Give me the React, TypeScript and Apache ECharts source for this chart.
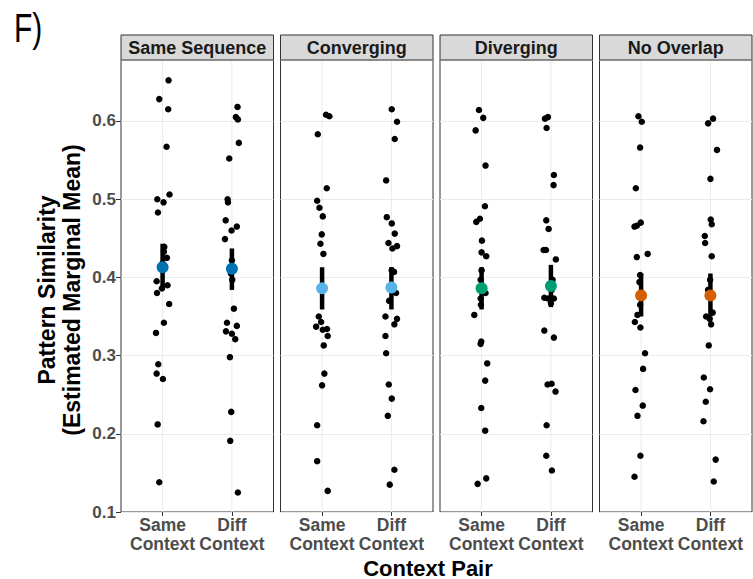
import React, { useEffect, useRef } from "react";
import * as echarts from "echarts";

// ---------- data ----------
const panelTitles = ["Same Sequence", "Converging", "Diverging", "No Overlap"];
const contextLabels = ["Same\nContext", "Diff\nContext"];
const meanColors = ["#0072B2", "#56B4E9", "#009E73", "#D55E00"];

// Estimated marginal means [Same, Diff] per panel, and their interval bounds
const emmMeans = [[0.413, 0.411], [0.386, 0.387], [0.386, 0.389], [0.377, 0.377]];
const emmLower = [[0.384, 0.384], [0.359, 0.359], [0.359, 0.362], [0.350, 0.350]];
const emmUpper = [[0.443, 0.437], [0.413, 0.413], [0.413, 0.416], [0.405, 0.405]];

// Individual participant values and their horizontal jitter (in category units)
const sameSeqSame = [0.652, 0.628, 0.615, 0.567, 0.500, 0.496, 0.506, 0.483, 0.439, 0.433, 0.425, 0.418, 0.395, 0.386, 0.390, 0.380, 0.366, 0.342, 0.329, 0.289, 0.277, 0.270, 0.212, 0.138];
const sameSeqSameJit = [0.086, -0.048, 0.081, 0.057, -0.076, 0.014, 0.1, -0.067, 0.024, 0.019, 0.062, 0, -0.086, -0.01, 0.071, -0.081, 0.095, 0.019, -0.095, -0.062, -0.086, 0.005, -0.071, -0.048];
const sameSeqDiff = [0.618, 0.605, 0.602, 0.572, 0.552, 0.500, 0.496, 0.473, 0.460, 0.465, 0.449, 0.422, 0.405, 0.397, 0.360, 0.342, 0.338, 0.331, 0.328, 0.321, 0.298, 0.228, 0.191, 0.125];
const sameSeqDiffJit = [0.081, 0.057, 0.086, 0.1, -0.038, -0.062, -0.057, -0.09, -0.005, 0.071, -0.1, 0, -0.014, 0.005, 0.029, -0.071, 0.071, -0.086, 0, 0.048, -0.029, -0.01, -0.024, 0.086];

const convSame = [0.608, 0.606, 0.583, 0.514, 0.498, 0.489, 0.478, 0.455, 0.443, 0.430, 0.350, 0.343, 0.337, 0.333, 0.334, 0.325, 0.313, 0.277, 0.262, 0.211, 0.165, 0.127];
const convSameJit = [0.057, 0.105, -0.062, 0.067, -0.071, -0.038, 0.01, -0.005, -0.024, 0.019, -0.048, -0.014, -0.086, 0.01, 0.071, 0.081, 0.024, 0.033, 0, -0.071, -0.071, 0.081];
const convDiff = [0.615, 0.599, 0.577, 0.524, 0.477, 0.469, 0.456, 0.444, 0.437, 0.440, 0.409, 0.407, 0.380, 0.370, 0.350, 0.347, 0.340, 0.325, 0.303, 0.263, 0.245, 0.223, 0.154, 0.135];
const convDiffJit = [0.005, 0.081, 0.048, -0.076, -0.067, 0.005, 0.048, -0.043, 0.014, 0.081, 0.005, 0.038, 0.067, -0.033, -0.086, 0.081, 0.043, -0.086, -0.076, -0.038, 0.005, -0.052, 0.043, -0.024];

const divSame = [0.614, 0.604, 0.588, 0.543, 0.491, 0.471, 0.475, 0.447, 0.432, 0.427, 0.409, 0.397, 0.380, 0.373, 0.365, 0.352, 0.318, 0.315, 0.290, 0.268, 0.233, 0.204, 0.143, 0.136];
const divSameJit = [-0.038, 0.024, -0.086, 0.057, 0.048, -0.076, -0.024, 0.005, 0, 0.067, 0, -0.014, 0.057, -0.014, -0.01, -0.105, -0.005, -0.014, 0.081, 0.052, -0.005, 0.052, 0.067, -0.057];
const divDiff = [0.603, 0.605, 0.591, 0.531, 0.518, 0.473, 0.462, 0.435, 0.435, 0.423, 0.397, 0.384, 0.374, 0.373, 0.373, 0.367, 0.332, 0.323, 0.263, 0.264, 0.254, 0.211, 0.172, 0.153];
const divDiffJit = [-0.086, -0.043, -0.062, 0.043, 0.038, -0.067, -0.033, -0.105, -0.071, 0.071, 0.024, 0.01, -0.095, -0.043, 0.043, 0, -0.095, 0.043, -0.048, 0.01, 0.067, -0.062, -0.067, 0.014];

const noOvSame = [0.606, 0.599, 0.566, 0.514, 0.470, 0.465, 0.466, 0.430, 0.426, 0.403, 0.394, 0.365, 0.352, 0.343, 0.336, 0.303, 0.283, 0.256, 0.236, 0.223, 0.172, 0.145];
const noOvSameJit = [-0.038, 0.01, -0.014, -0.076, -0.005, -0.095, -0.062, 0.095, -0.062, -0.014, -0.024, -0.014, -0.052, -0.09, -0.01, 0.057, 0.029, -0.081, 0.024, -0.052, -0.01, -0.095];
const noOvDiff = [0.603, 0.597, 0.563, 0.526, 0.474, 0.468, 0.453, 0.444, 0.427, 0.397, 0.384, 0.355, 0.350, 0.347, 0.340, 0.313, 0.272, 0.257, 0.241, 0.216, 0.167, 0.139];
const noOvDiffJit = [0.038, -0.033, 0.095, 0, 0.005, 0.019, -0.081, -0.076, 0.019, -0.005, -0.033, 0.033, -0.062, -0.01, 0.01, -0.024, -0.095, -0.005, -0.067, -0.1, 0.076, 0.048];

const yTickValues = [0.1, 0.2, 0.3, 0.4, 0.5, 0.6];
const xTickValues = [1, 2];

// ---------- layout ----------
const FONT = "'Liberation Sans', Arial, Helvetica, sans-serif";
const Y_MIN = 0.1;
const Y_MAX = 0.678;
const X_MIN = 0.4;
const X_MAX = 2.6;
const PANEL_LEFT = 121;
const PANEL_W = 152.5;
const PANEL_STEP = 159.5;
const PANEL_TOP = 60;
const PANEL_H = 452;
const STRIP_H = 25;

export default function App() {
  const ref = useRef<HTMLDivElement>(null);

  useEffect(() => {
    document.body.style.margin = "0";
    if (!ref.current) return;
    const chart = echarts.init(ref.current, null, { renderer: "svg" });

    const panels = [
      { same: sameSeqSame, sameJ: sameSeqSameJit, diff: sameSeqDiff, diffJ: sameSeqDiffJit },
      { same: convSame, sameJ: convSameJit, diff: convDiff, diffJ: convDiffJit },
      { same: divSame, sameJ: divSameJit, diff: divDiff, diffJ: divDiffJit },
      { same: noOvSame, sameJ: noOvSameJit, diff: noOvDiff, diffJ: noOvDiffJit },
    ];

    const grids: any[] = [];
    const xAxes: any[] = [];
    const yAxes: any[] = [];
    const series: any[] = [];
    const graphics: any[] = [];

    panels.forEach((p, i) => {
      const left = PANEL_LEFT + i * PANEL_STEP;
      grids.push({
        left,
        top: PANEL_TOP,
        width: PANEL_W,
        height: PANEL_H,
        show: true,
        backgroundColor: "#ffffff",
        borderColor: "#333333",
        borderWidth: 1,
      });
      xAxes.push({
        type: "value",
        gridIndex: i,
        min: X_MIN,
        max: X_MAX,
        axisLine: { show: false },
        splitLine: { show: false },
        axisTick: {
          show: true,
          customValues: xTickValues,
          length: 4,
          lineStyle: { color: "#333333", width: 1 },
        },
        axisLabel: {
          show: true,
          customValues: xTickValues,
          formatter: (v: number) => contextLabels[Math.round(v) - 1] ?? "",
          fontFamily: FONT,
          fontWeight: "bold",
          fontSize: 17.5,
          lineHeight: 19,
          color: "#4D4D4D",
          margin: 3,
        },
      });
      yAxes.push({
        type: "value",
        gridIndex: i,
        min: Y_MIN,
        max: Y_MAX,
        interval: 0.1,
        axisLine: { show: false },
        axisTick: {
          show: i === 0,
          length: 5,
          lineStyle: { color: "#333333", width: 1 },
        },
        axisLabel: {
          show: i === 0,
          showMaxLabel: false,
          formatter: (v: number) =>
            yTickValues.some((t) => Math.abs(t - v) < 1e-6) ? v.toFixed(1) : "",
          fontFamily: FONT,
          fontWeight: "bold",
          fontSize: 17,
          color: "#4D4D4D",
          margin: 5,
        },
        splitLine: { show: true, lineStyle: { color: "#EBEBEB", width: 1 } },
      });

      // vertical grid lines at category positions
      series.push({
        type: "custom",
        xAxisIndex: i,
        yAxisIndex: i,
        silent: true,
        z: 1,
        data: xTickValues.map((x) => [x, Y_MIN]),
        renderItem: (_params: any, api: any) => {
          const x = api.value(0);
          const a = api.coord([x, Y_MIN]);
          const b = api.coord([x, Y_MAX]);
          return {
            type: "line",
            shape: { x1: a[0], y1: a[1], x2: b[0], y2: b[1] },
            style: { stroke: "#EBEBEB", lineWidth: 1 },
          };
        },
      });

      const pts: number[][] = [];
      p.same.forEach((v, k) => pts.push([1 + p.sameJ[k], v]));
      p.diff.forEach((v, k) => pts.push([2 + p.diffJ[k], v]));
      series.push({
        type: "scatter",
        xAxisIndex: i,
        yAxisIndex: i,
        symbolSize: 6.5,
        itemStyle: { color: "#000000", opacity: 1 },
        z: 2,
        data: pts,
      });

      series.push({
        type: "custom",
        xAxisIndex: i,
        yAxisIndex: i,
        z: 3,
        encode: { x: 0, y: [1, 2] },
        data: xTickValues.map((x, k) => [x, emmLower[i][k], emmUpper[i][k]]),
        renderItem: (_params: any, api: any) => {
          const x = api.value(0);
          const a = api.coord([x, api.value(1)]);
          const b = api.coord([x, api.value(2)]);
          return {
            type: "line",
            shape: { x1: a[0], y1: a[1], x2: b[0], y2: b[1] },
            style: { stroke: "#000000", lineWidth: 4.5 },
          };
        },
      });

      series.push({
        type: "scatter",
        xAxisIndex: i,
        yAxisIndex: i,
        symbolSize: 12,
        itemStyle: { color: meanColors[i], opacity: 1 },
        z: 4,
        data: xTickValues.map((x, k) => [x, emmMeans[i][k]]),
      });

      // facet strip
      graphics.push({
        type: "rect",
        shape: { x: left, y: PANEL_TOP - STRIP_H, width: PANEL_W, height: STRIP_H },
        style: { fill: "#D9D9D9", stroke: "#333333", lineWidth: 1 },
        z: 10,
      });
      graphics.push({
        type: "text",
        x: left + PANEL_W / 2,
        y: PANEL_TOP - STRIP_H / 2,
        style: {
          text: panelTitles[i],
          align: "center",
          verticalAlign: "middle",
          font: `bold 18px ${FONT}`,
          fill: "#1A1A1A",
        },
        z: 11,
      });
    });

    // axis titles and panel tag
    graphics.push({
      type: "text",
      x: 428,
      y: 568,
      style: {
        text: "Context Pair",
        align: "center",
        verticalAlign: "middle",
        font: `bold 22px ${FONT}`,
        fill: "#000000",
      },
    });
    graphics.push({
      type: "text",
      x: 59,
      y: 290,
      rotation: Math.PI / 2,
      style: {
        text: "Pattern Similarity\n(Estimated Marginal Mean)",
        align: "center",
        verticalAlign: "middle",
        font: `bold 23px ${FONT}`,
        lineHeight: 25,
        fill: "#000000",
      },
    });
    graphics.push({
      type: "text",
      x: 14,
      y: 28,
      scaleX: 0.75,
      style: {
        text: "F)",
        align: "left",
        verticalAlign: "middle",
        font: `40px ${FONT}`,
        fill: "#000000",
      },
    });

    chart.setOption({
      animation: false,
      backgroundColor: "#ffffff",
      grid: grids,
      xAxis: xAxes,
      yAxis: yAxes,
      series,
      graphic: graphics,
    });

    return () => chart.dispose();
  }, []);

  return <div ref={ref} style={{ width: 753, height: 579 }} />;
}
